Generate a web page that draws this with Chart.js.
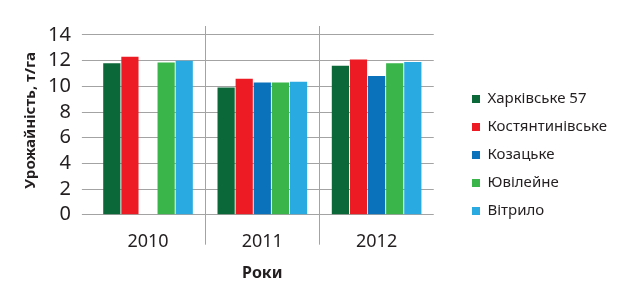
<!DOCTYPE html>
<html>
<head>
<meta charset="utf-8">
<script src="https://cdn.jsdelivr.net/npm/chart.js@4.4.1/dist/chart.umd.min.js"></script>
<style>
  html, body { margin: 0; padding: 0; background: #fff; }
</style>
</head>
<body>
<canvas id="chart" width="638" height="297"></canvas>
<script>
// data
const years = ['2010', '2011', '2012'];
const varieties = ['Харківське 57', 'Костянтинівське', 'Козацьке', 'Ювілейне', 'Вітрило'];
const kharkivske57 = [11.8, 9.9, 11.6];
const kostiantynivske = [12.3, 10.6, 12.1];
const kozatske = [null, 10.3, 10.8];
const yuvileine = [11.85, 10.3, 11.8];
const vitrylo = [12.0, 10.35, 11.9];
const yTicks = [0, 2, 4, 6, 8, 10, 12, 14];

const colors = ['#0b6838', '#ed1c24', '#0a72ba', '#39b54a', '#29abe2'];
const gridColor = '#a3a3a3';
const textColor = '#231f20';

Chart.defaults.font.family = '"Noto Sans", sans-serif';
Chart.defaults.color = textColor;

// move legend to where the reference has it
const legendPlace = {
  id: 'legendPlace',
  afterLayout(chart) {
    const l = chart.legend;
    const pad = 13;
    const dx = (472 - pad) - l.left;
    const dy = (91.5 - pad) - l.top;
    l.left += dx; l.right = chart.width;
    l.top += dy; l.bottom += dy;
  }
};

const seriesValues = [kharkivske57, kostiantynivske, kozatske, yuvileine, vitrylo];

new Chart(document.getElementById('chart'), {
  type: 'bar',
  data: {
    labels: years,
    datasets: varieties.map((name, i) => ({
      label: name,
      data: seriesValues[i],
      backgroundColor: colors[i],
      borderWidth: 0,
      categoryPercentage: 0.792,
      barPercentage: 0.95
    }))
  },
  options: {
    responsive: false,
    animation: false,
    layout: { padding: { top: 26, left: 22, bottom: 14, right: 67 } },
    plugins: {
      tooltip: { enabled: false },
      legend: {
        position: 'right',
        align: 'start',
        labels: {
          boxWidth: 8,
          boxHeight: 8,
          padding: 13,
          font: { size: 15 },
          color: textColor
        }
      }
    },
    scales: {
      x: {
        grid: {
          offset: true,
          color: (c) => (c.index === 1 || c.index === 2) ? gridColor : 'rgba(0,0,0,0)',
          tickLength: 30,
          lineWidth: 1
        },
        border: { display: false },
        ticks: { padding: -14, font: { size: 18 }, color: textColor },
        title: {
          display: true,
          text: 'Роки',
          font: { size: 16, weight: 'bold' },
          color: textColor,
          padding: { top: 25.5, bottom: 0 }
        }
      },
      y: {
        min: 0,
        max: 14.7,
        afterBuildTicks: (axis) => { axis.ticks = yTicks.map(v => ({ value: v })); },
        grid: { color: gridColor, tickLength: 9, drawTicks: true, lineWidth: 1 },
        border: { display: false },
        ticks: { padding: 11, autoSkip: false, font: { size: 20 }, color: textColor },
        title: {
          display: true,
          text: 'Урожайність, т/га',
          font: { size: 15, weight: 'bold' },
          color: textColor,
          padding: { top: 0, bottom: -3 }
        }
      }
    }
  },
  plugins: [legendPlace]
});
</script>
</body>
</html>
